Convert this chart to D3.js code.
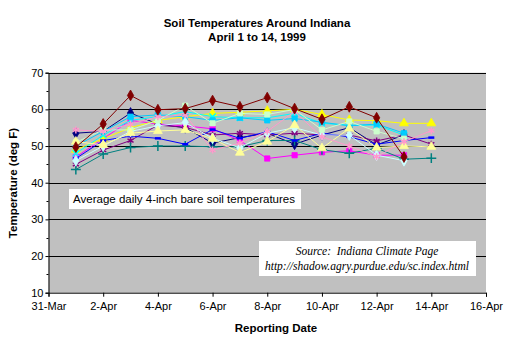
<!DOCTYPE html>
<html><head><meta charset="utf-8">
<script src="https://cdn.jsdelivr.net/npm/d3@7"></script>
<style>body{margin:0;background:#fff;} svg{display:block;}</style>
</head><body>
<script>
// ---- data ----
const dates = ["1999-04-01","1999-04-02","1999-04-03","1999-04-04","1999-04-05","1999-04-06","1999-04-07",
               "1999-04-08","1999-04-09","1999-04-10","1999-04-11","1999-04-12","1999-04-13","1999-04-14"];
const xTickLabels = ["31-Mar","2-Apr","4-Apr","6-Apr","8-Apr","10-Apr","12-Apr","14-Apr","16-Apr"];
const yTickLabels = [10,20,30,40,50,60,70];

const navyVals     = [53.5, 54.0, 59.0, 56.0, 55.0, 50.8, 52.3, 53.5, 50.5, 53.0, 55.0, 50.3, 53.0, null];
const magentaVals  = [47.0, 52.0, 57.0, 56.0, 55.5, 54.7, 51.5, 46.6, 47.5, 48.3, 48.7, 47.5, 47.5, null];
const yellowVals   = [49.0, 52.0, 55.0, 57.0, 58.0, 58.9, 59.2, 59.6, 60.0, 58.6, 57.1, 56.9, 56.2, 56.2];
const cyanVals     = [48.0, 53.0, 57.0, 58.0, 59.4, 58.0, 57.7, 57.7, 58.9, 56.2, 55.7, 55.7, 53.0, null];
const purpleVals   = [45.0, 48.9, 51.5, 55.7, 55.1, 53.0, 53.5, 53.0, 53.5, 53.0, 53.0, 51.4, 53.0, 50.5];
const tealVals     = [43.6, 47.8, 49.6, 50.0, 50.0, 49.8, 49.8, 51.5, 51.5, 49.0, 48.0, 49.4, 46.4, 46.7];
const blueVals     = [46.6, 51.5, 52.7, 52.1, 50.5, 54.5, 52.1, 53.9, 51.5, 53.5, 52.5, 50.5, 51.5, 52.3];
const skyVals      = [50.0, 54.0, 58.0, 58.5, 58.0, 57.0, 57.7, 57.0, 57.5, 56.5, 55.5, 56.0, 53.5, null];
const lightCyanVals= [46.0, 50.0, 54.0, 55.5, 56.4, 52.1, 49.5, 53.5, 55.0, 53.0, 53.0, 47.5, 46.0, null];
const lightGreenVals=[51.0, 54.4, 54.4, 57.0, 61.0, 56.2, 58.9, 58.6, 60.0, 54.4, 56.7, 54.0, 52.0, null];
const lightYellowVals=[51.2,50.3, 53.5, 54.1, 54.4, 52.0, 48.2, 51.2, 55.7, 49.4, 54.8, 49.6, 50.0, 49.8];
const pinkVals     = [54.4, 54.0, 56.0, 58.0, 58.5, 48.9, 50.8, 54.0, 59.4, 52.5, 50.0, 47.1, 51.2, 54.2];
const maroonVals   = [49.7, 56.0, 63.8, 59.9, 60.2, 62.4, 60.7, 63.2, 60.2, 57.3, 60.7, 57.7, 47.0, null];

const series = [
  {name:"navy", color:"#000080", marker:"diamond", values:navyVals},
  {name:"magenta", color:"#FF00FF", marker:"square", values:magentaVals},
  {name:"yellow", color:"#FFFF00", marker:"triangle", values:yellowVals},
  {name:"cyan", color:"#00FFFF", marker:"x", values:cyanVals},
  {name:"purple", color:"#800080", marker:"star", values:purpleVals},
  {name:"teal", color:"#008080", marker:"plus", values:tealVals},
  {name:"blue", color:"#0000FF", marker:"dash", values:blueVals},
  {name:"sky", color:"#00CCFF", marker:"square", values:skyVals},
  {name:"lightcyan", color:"#CCFFFF", marker:"diamond", values:lightCyanVals},
  {name:"lightgreen", color:"#CCFFCC", marker:"square", values:lightGreenVals},
  {name:"lightyellow", color:"#FFFF99", marker:"triangle", values:lightYellowVals},
  {name:"pink", color:"#FF99CC", marker:"star", values:pinkVals},
  {name:"maroon", color:"#800000", marker:"diamond", values:maroonVals}
];

// ---- layout ----
const W = 512, H = 344;
const pL = 48.5, pR = 486, pT = 72.7, pB = 292.7;
const parse = d3.timeParse("%Y-%m-%d");
const x = d3.scaleTime().domain([parse("1999-03-31"), parse("1999-04-16")]).range([pL, pR]);
const y = d3.scaleLinear().domain([10, 70]).range([pB, pT]);

const svg = d3.select("body").append("svg").attr("width", W).attr("height", H)
  .style("font-family", "Arial, 'Liberation Sans', sans-serif");

// plot area
svg.append("rect").attr("x", pL).attr("y", pT).attr("width", pR-pL).attr("height", pB-pT)
  .attr("fill", "#C0C0C0");

// gridlines
svg.append("g").selectAll("line").data(yTickLabels.slice(1)).join("line")
  .attr("x1", pL).attr("x2", pR)
  .attr("y1", d => Math.round(y(d))+0.5).attr("y2", d => Math.round(y(d))+0.5)
  .attr("stroke", "#000").attr("stroke-width", 1);

// y axis
const yAxis = d3.axisLeft(y).tickValues(yTickLabels).tickSize(3).tickFormat(d3.format("d"));
const gy = svg.append("g").attr("transform", `translate(${pL},0)`).call(yAxis);
gy.select(".domain").attr("stroke", "#000");
gy.selectAll("text").attr("font-size", 11).attr("fill", "#000").attr("x", -5);
// minor y ticks
svg.append("g").selectAll("line").data([15,25,35,45,55,65]).join("line")
  .attr("x1", pL-2).attr("x2", pL)
  .attr("y1", d => Math.round(y(d))+0.5).attr("y2", d => Math.round(y(d))+0.5)
  .attr("stroke", "#000");

// x axis
const xTickDates = d3.range(0, 17, 2).map(i => d3.timeDay.offset(parse("1999-03-31"), i));
const xAxis = d3.axisBottom(x).tickValues(xTickDates).tickSize(4)
  .tickFormat((d, i) => xTickLabels[i]);
const gx = svg.append("g").attr("transform", `translate(0,${pB})`).call(xAxis);
gx.select(".domain").attr("stroke", "#000");
gx.selectAll("text").attr("font-size", 11).attr("fill", "#000").attr("dy", "0.9em");

// lines & markers
const line = d3.line().defined(d => d.v != null).x(d => x(d.date)).y(d => y(d.v));
const sym = {
  diamond: d3.symbol().type(d3.symbolDiamond).size(34),
  square: d3.symbol().type(d3.symbolSquare).size(28),
  triangle: d3.symbol().type(d3.symbolTriangle).size(34),
  x: d3.symbol().type(d3.symbolTimes).size(28),
  star: d3.symbol().type(d3.symbolAsterisk).size(34),
  plus: d3.symbol().type(d3.symbolPlus).size(34)
};
const filled = {diamond:true, square:true, triangle:true};

series.forEach(s => {
  const pts = dates.map((dt, i) => ({date: parse(dt), v: s.values[i]}));
  const g = svg.append("g");
  g.append("path").datum(pts).attr("d", line).attr("fill", "none")
    .attr("stroke", s.color).attr("stroke-width", 1);
  const valid = pts.filter(p => p.v != null);
  if (s.marker === "dash") {
    g.selectAll("line").data(valid).join("line")
      .attr("x1", p => x(p.date)-3).attr("x2", p => x(p.date)+3)
      .attr("y1", p => y(p.v)).attr("y2", p => y(p.v))
      .attr("stroke", s.color).attr("stroke-width", 2.5);
  } else {
    g.selectAll("path.m").data(valid).join("path").attr("class", "m")
      .attr("transform", p => `translate(${x(p.date)},${y(p.v)})`)
      .attr("d", sym[s.marker]())
      .attr("fill", filled[s.marker] ? s.color : "none")
      .attr("stroke", s.color).attr("stroke-width", filled[s.marker] ? 0.8 : 1.5);
  }
});

// titles
svg.append("text").attr("x", 257).attr("y", 27).attr("text-anchor", "middle")
  .attr("font-size", 11.5).attr("font-weight", "bold").text("Soil Temperatures Around Indiana");
svg.append("text").attr("x", 257).attr("y", 41).attr("text-anchor", "middle")
  .attr("font-size", 11.5).attr("font-weight", "bold").text("April 1 to 14, 1999");
svg.append("text").attr("x", 276).attr("y", 332).attr("text-anchor", "middle")
  .attr("font-size", 11.5).attr("font-weight", "bold").text("Reporting Date");
svg.append("text").attr("transform", "translate(17,183) rotate(-90)").attr("text-anchor", "middle")
  .attr("font-size", 11.5).attr("font-weight", "bold").text("Temperature (deg F)");

// annotation boxes
svg.append("rect").attr("x", 69).attr("y", 189).attr("width", 232).attr("height", 20).attr("fill", "#fff");
svg.append("text").attr("x", 73).attr("y", 203).attr("font-size", 11)
  .attr("font-family", "'Liberation Sans', Arial, sans-serif")
  .attr("textLength", 222).attr("lengthAdjust", "spacingAndGlyphs")
  .text("Average daily 4-inch bare soil temperatures");

svg.append("rect").attr("x", 259).attr("y", 241).attr("width", 217).attr("height", 35).attr("fill", "#fff");
svg.append("text").attr("x", 367).attr("y", 255).attr("text-anchor", "middle")
  .attr("font-size", 11.5).attr("font-style", "italic").attr("font-family", "'Liberation Serif', 'DejaVu Serif', serif")
  .attr("xml:space", "preserve").text("Source:  Indiana Climate Page");
svg.append("text").attr("x", 367).attr("y", 270).attr("text-anchor", "middle")
  .attr("font-size", 11.5).attr("font-style", "italic").attr("font-family", "'Liberation Serif', 'DejaVu Serif', serif")
  .text("http://shadow.agry.purdue.edu/sc.index.html");
</script>
</body></html>
